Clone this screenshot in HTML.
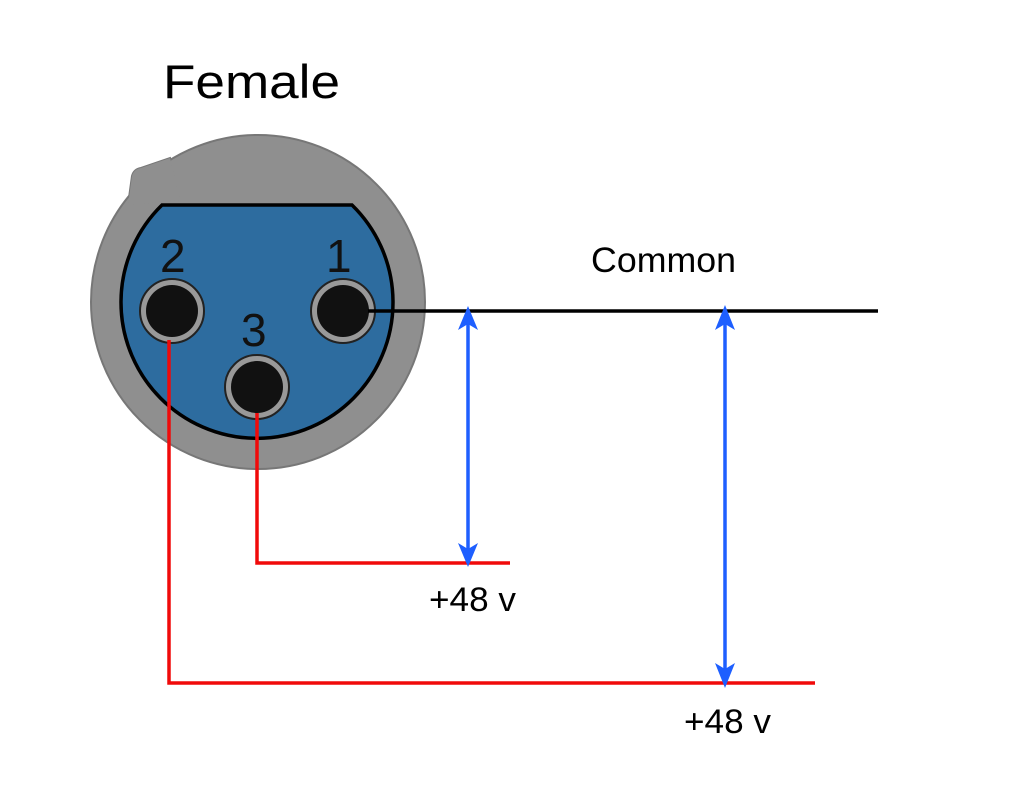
<!DOCTYPE html>
<html><head><meta charset="utf-8"><style>html,body{margin:0;padding:0;background:#fff}svg{display:block}</style></head>
<body>
<svg width="1021" height="798" viewBox="0 0 1021 798" xmlns="http://www.w3.org/2000/svg" font-family="Liberation Sans, Arial, sans-serif">
<rect width="1021" height="798" fill="#fff"/>
<text x="163" y="98" font-size="47" textLength="177" lengthAdjust="spacingAndGlyphs" fill="#000">Female</text>
<!-- connector body -->
<path d="M128 205 L132 176 Q134 169 141 168 L170 158 L180 200 Z" fill="#8f8f8f" stroke="#777" stroke-width="2"/>
<circle cx="258" cy="302" r="167" fill="#8f8f8f" stroke="#777" stroke-width="2"/>
<path d="M128 205 L132 176 Q134 169 141 168 L170 158 L180 200 Z" fill="#8f8f8f"/>
<path d="M162 205 L352 205 A136 136 0 1 1 162 205 Z" fill="#2d6c9f" stroke="#000" stroke-width="3.5"/>
<text x="160" y="272" font-size="46" fill="#111">2</text>
<text x="326" y="272" font-size="46" fill="#111">1</text>
<text x="241" y="346" font-size="46" fill="#111">3</text>
<g stroke="#222" stroke-width="2">
<circle cx="172" cy="311" r="32" fill="#999"/>
<circle cx="343" cy="311" r="32" fill="#999"/>
<circle cx="257" cy="387" r="32" fill="#999"/>
</g>
<g fill="#111">
<circle cx="172" cy="311" r="26"/>
<circle cx="343" cy="311" r="26"/>
<circle cx="257" cy="387" r="26"/>
</g>
<!-- wires -->
<line x1="368" y1="311" x2="878" y2="311" stroke="#000" stroke-width="3.5"/>
<polyline points="257,413 257,563 510,563" fill="none" stroke="#f00a0a" stroke-width="3.5"/>
<polyline points="169,340 169,683 815,683" fill="none" stroke="#f00a0a" stroke-width="3.5"/>
<!-- arrows -->
<g stroke="#1e5fff" stroke-width="3.5">
<line x1="468" y1="322" x2="468" y2="552"/>
<line x1="725" y1="322" x2="725" y2="672"/>
</g>
<g fill="#1e5fff">
<path d="M468 306 L478 330 L468 324 L458 330 Z"/>
<path d="M468 567 L478 543 L468 549 L458 543 Z"/>
<path d="M725 305 L735 330 L725 324 L715 330 Z"/>
<path d="M725 688 L735 663 L725 669 L715 663 Z"/>
</g>
<text x="591" y="272" font-size="35" textLength="145" lengthAdjust="spacingAndGlyphs" fill="#000">Common</text>
<text x="429" y="611" font-size="34" textLength="87" lengthAdjust="spacingAndGlyphs" fill="#000">+48 v</text>
<text x="684" y="733" font-size="34" textLength="87" lengthAdjust="spacingAndGlyphs" fill="#000">+48 v</text>
</svg>
</body></html>
